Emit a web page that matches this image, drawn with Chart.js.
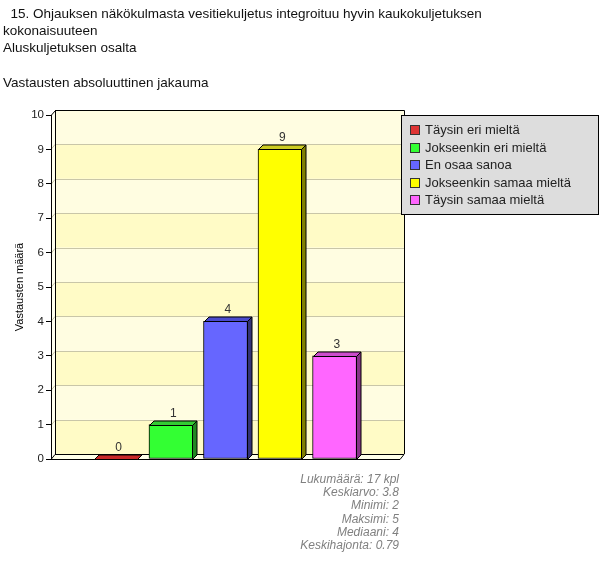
<!DOCTYPE html>
<html>
<head>
<meta charset="utf-8">
<script src="https://cdn.jsdelivr.net/npm/chart.js@4.4.1/dist/chart.umd.min.js"></script>
<style>
  body { margin: 0; background: #fff; font-family: "Liberation Sans", Arial, sans-serif; }
  #wrap { position: relative; width: 600px; height: 566px; overflow: hidden; }
  #title { position: absolute; left: 3px; top: 5px; font-size: 13.5px; line-height: 17.2px; color: #111; white-space: pre; }
  #stats { position: absolute; right: 201px; top: 473px; font-size: 12px; line-height: 13.2px; font-style: italic; color: #808080; text-align: right; }
  canvas { position: absolute; left: 0; top: 0; }
</style>
</head>
<body>
<div id="wrap">
  <canvas id="chart" width="600" height="566"></canvas>
  <div id="title"></div>
  <div id="stats"></div>
</div>
<script>
// --- data ---
const titleLines = [
  '  15. Ohjauksen näkökulmasta vesitiekuljetus integroituu hyvin kaukokuljetuksen',
  'kokonaisuuteen',
  'Aluskuljetuksen osalta',
  '',
  'Vastausten absoluuttinen jakauma'
];
const categories = ['Täysin eri mieltä', 'Jokseenkin eri mieltä', 'En osaa sanoa', 'Jokseenkin samaa mieltä', 'Täysin samaa mieltä'];
const counts = [0, 1, 4, 9, 3];
const yTicks = [0, 1, 2, 3, 4, 5, 6, 7, 8, 9, 10];
const statLines = ['Lukumäärä: 17 kpl', 'Keskiarvo: 3.8', 'Minimi: 2', 'Maksimi: 5', 'Mediaani: 4', 'Keskihajonta: 0.79'];

// colours per bar: front, top, side
const frontColors = ['#dd3333', '#33ff33', '#6666ff', '#ffff00', '#ff66ff'];
const topColors = ['#c82828', '#33cc33', '#4a4acc', '#cccc22', '#cc4ccc'];
const sideColors = ['#8a1a1a', '#228822', '#333377', '#808000', '#883388'];

document.getElementById('title').textContent = titleLines.join('\n');
document.getElementById('stats').innerHTML = statLines.join('<br>');

const WALL = { x: 4, y: 5 };   // offset of back wall
const DEPTH = { x: 4.5, y: 4.5 }; // bar depth

function poly(ctx, pts, fill, stroke) {
  ctx.beginPath();
  ctx.moveTo(pts[0][0], pts[0][1]);
  for (let i = 1; i < pts.length; i++) ctx.lineTo(pts[i][0], pts[i][1]);
  ctx.closePath();
  if (fill) { ctx.fillStyle = fill; ctx.fill(); }
  if (stroke) { ctx.strokeStyle = stroke; ctx.lineWidth = 1; ctx.stroke(); }
}

// back wall, floor and side strip drawn before the axes
const wallPlugin = {
  id: 'wall3d',
  beforeDraw(chart) {
    const { ctx, chartArea: a, scales: { y } } = chart;
    const wl = a.left + WALL.x, wr = a.right + WALL.x;
    ctx.save();
    for (let i = 0; i < yTicks.length - 1; i++) {
      const y0 = y.getPixelForValue(yTicks[i]) - WALL.y;
      const y1 = y.getPixelForValue(yTicks[i + 1]) - WALL.y;
      ctx.fillStyle = i % 2 === 0 ? '#fffbc6' : '#fffde1';
      ctx.fillRect(wl, y1, wr - wl, y0 - y1);
    }
    // left side strip
    poly(ctx, [[a.left, a.top], [wl, a.top - WALL.y], [wl, a.bottom - WALL.y], [a.left, a.bottom]], '#fffff0');
    // grid lines on wall
    ctx.strokeStyle = '#c9c6a8';
    ctx.lineWidth = 1;
    yTicks.slice(1, -1).forEach(v => {
      const py = Math.round(y.getPixelForValue(v)) + 0.5;
      ctx.beginPath();
      ctx.moveTo(a.left, py);
      ctx.lineTo(wl, py - WALL.y);
      ctx.lineTo(wr, py - WALL.y);
      ctx.stroke();
    });
    // floor
    poly(ctx, [[a.left, a.bottom + 0.5], [a.right, a.bottom + 0.5], [wr, a.bottom - WALL.y + 0.5], [wl, a.bottom - WALL.y + 0.5]], '#ffffe8', '#000');
    // wall outline
    ctx.strokeStyle = '#000';
    ctx.beginPath();
    ctx.moveTo(a.left + 0.5, a.top);
    ctx.lineTo(wl + 0.5, a.top - WALL.y + 0.5);
    ctx.lineTo(wr + 0.5, a.top - WALL.y + 0.5);
    ctx.lineTo(wr + 0.5, a.bottom - WALL.y);
    ctx.moveTo(wl + 0.5, a.top - WALL.y);
    ctx.lineTo(wl + 0.5, a.bottom - WALL.y);
    ctx.stroke();
    ctx.restore();
  },
  afterDatasetsDraw(chart) {
    const { ctx } = chart;
    const meta = chart.getDatasetMeta(0);
    ctx.save();
    meta.data.forEach((bar, i) => {
      const { x, y, base, width } = bar.getProps(['x', 'y', 'base', 'width'], true);
      const l = Math.round(x - width / 2) + 0.5, r = Math.round(x + width / 2) - 0.5;
      const t = Math.round(y) + 0.5, b = Math.round(base) + 0.5;
      poly(ctx, [[l, t], [l + DEPTH.x, t - DEPTH.y], [r + DEPTH.x, t - DEPTH.y], [r, t]], topColors[i], '#000');
      if (b - t > 1) {
        poly(ctx, [[r, t], [r + DEPTH.x, t - DEPTH.y], [r + DEPTH.x, b - DEPTH.y], [r, b]], sideColors[i], '#000');
      }
      ctx.fillStyle = '#333';
      ctx.font = '12px "Liberation Sans", Arial, sans-serif';
      ctx.textAlign = 'center';
      ctx.textBaseline = 'middle';
      ctx.fillText(String(counts[i]), x + DEPTH.x / 2, t - DEPTH.y - 7);
    });
    ctx.restore();
  },
  afterDraw(chart) {
    const { ctx } = chart;
    ctx.save();
    ctx.fillStyle = '#dddddd';
    ctx.fillRect(401, 115, 198, 100);
    ctx.strokeStyle = '#000';
    ctx.lineWidth = 1;
    ctx.strokeRect(401.5, 115.5, 197, 99);
    ctx.font = '13px "Liberation Sans", Arial, sans-serif';
    ctx.textBaseline = 'middle';
    categories.forEach((name, i) => {
      const ry = 130 + i * 17.5;
      ctx.fillStyle = frontColors[i];
      ctx.fillRect(410, Math.round(ry - 5), 10, 10);
      ctx.strokeStyle = '#333';
      ctx.strokeRect(410.5, Math.round(ry - 5) + 0.5, 9, 9);
      ctx.fillStyle = '#222';
      ctx.fillText(name, 425, ry + 0.5);
    });
    ctx.restore();
  }
};

new Chart(document.getElementById('chart'), {
  type: 'bar',
  data: {
    labels: categories,
    datasets: [{
      data: counts.map((v, i) => ({ x: i, y: v })),
      backgroundColor: frontColors,
      borderColor: '#000',
      borderWidth: 1,
      borderSkipped: false,
      barThickness: 44
    }]
  },
  options: {
    responsive: false,
    animation: false,
    devicePixelRatio: 1,
    layout: { padding: { left: 0, top: 115, right: 200, bottom: 107 } },
    plugins: {
      legend: { display: false },
      tooltip: { enabled: false }
    },
    scales: {
      x: {
        type: 'linear',
        min: -1.2,
        max: 5.2,
        offset: false,
        display: false
      },
      y: {
        min: 0,
        max: 10,
        afterFit: s => { s.width = 51; },
        afterBuildTicks: s => { s.ticks = yTicks.map(v => ({ value: v })); },
        ticks: {
          color: '#222',
          padding: 2,
          font: { family: '"Liberation Sans", Arial, sans-serif', size: 11.5 }
        },
        grid: { drawOnChartArea: false, drawTicks: true, tickLength: 5, color: '#000' },
        border: { display: true, color: '#000' },
        title: {
          display: true,
          text: 'Vastausten määrä',
          color: '#000',
          padding: { top: 13, bottom: 0 },
          font: { family: '"Liberation Sans", Arial, sans-serif', size: 11 }
        }
      }
    }
  },
  plugins: [wallPlugin]
});
</script>
</body>
</html>
